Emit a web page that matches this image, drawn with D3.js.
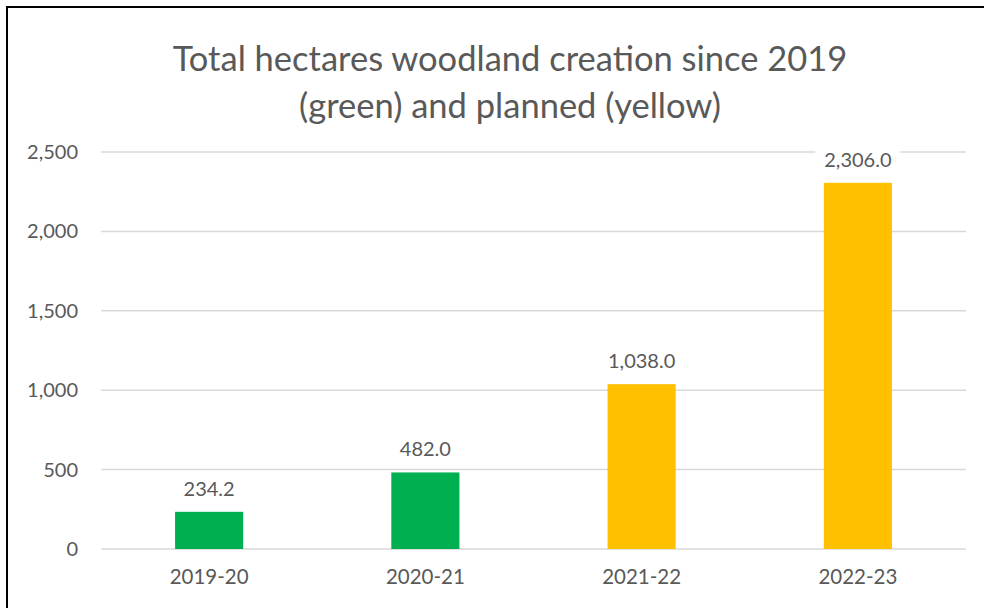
<!DOCTYPE html>
<html>
<head>
<meta charset="utf-8">
<title>Woodland creation</title>
<script src="https://d3js.org/d3.v7.min.js"></script>
<style>
  body { margin: 0; background: #fff; }
  text { font-family: Lato, "Open Sans", sans-serif; fill: #595959; }
</style>
</head>
<body>
<div id="chart"></div>
<script>
// data
var years = ["2019-20", "2020-21", "2021-22", "2022-23"];
var hectares = [234.2, 482.0, 1038.0, 2306.0];
var barColors = ["#00B050", "#00B050", "#FFC000", "#FFC000"];
var yTicks = [0, 500, 1000, 1500, 2000, 2500];
var titleLines = ["Total hectares woodland creation since 2019", "(green) and planned (yellow)"];

var W = 984, H = 608;
var margin = {top: 152, right: 18, bottom: 59, left: 101},
    width = W - margin.left - margin.right,
    height = H - margin.top - margin.bottom;

var svg = d3.select("#chart").append("svg")
    .attr("width", W).attr("height", H);

// outer frame
svg.append("rect")
    .attr("x", 7).attr("y", 7)
    .attr("width", W + 10).attr("height", H + 10)
    .attr("fill", "none").attr("stroke", "#000").attr("stroke-width", 2);

// title
svg.append("g").selectAll("text")
  .data(titleLines)
  .enter().append("text")
    .attr("x", 510)
    .attr("y", function(d, i) { return 71 + i * 47; })
    .attr("text-anchor", "middle")
    .style("font-size", "34.5px")
    .text(function(d) { return d; });

var g = svg.append("g")
    .attr("transform", "translate(" + margin.left + "," + margin.top + ")");

var x = d3.scaleBand().domain(years).range([0, width]).paddingInner(0.685).paddingOuter(0.3425);
var y = d3.scaleLinear().domain([0, 2500]).range([height, 0]);

// gridlines
g.append("g").selectAll("line")
  .data(yTicks)
  .enter().append("line")
    .attr("x1", 0).attr("x2", width)
    .attr("y1", function(d) { return y(d); })
    .attr("y2", function(d) { return y(d); })
    .attr("stroke", "#d9d9d9").attr("stroke-width", 1.5);

// y axis labels
var yAxis = g.append("g")
    .call(d3.axisLeft(y).tickValues(yTicks).tickFormat(d3.format(",")).tickSize(0).tickPadding(23));
yAxis.select(".domain").remove();
yAxis.selectAll("text").style("font-size", "20px").attr("fill", "#595959");

// x axis labels
var xAxis = g.append("g")
    .attr("transform", "translate(0," + height + ")")
    .call(d3.axisBottom(x).tickSize(0).tickPadding(20));
xAxis.select(".domain").remove();
xAxis.selectAll("text").style("font-size", "20.5px").attr("fill", "#595959");

// bars
g.selectAll(".bar")
  .data(hectares)
  .enter().append("rect")
    .attr("class", "bar")
    .attr("x", function(d, i) { return x(years[i]); })
    .attr("y", function(d) { return y(d); })
    .attr("width", x.bandwidth())
    .attr("height", function(d) { return height - y(d); })
    .attr("fill", function(d, i) { return barColors[i]; });

// data labels with white box
var fmt = d3.format(",.1f");
var labels = g.selectAll(".lbl")
  .data(hectares)
  .enter().append("g")
    .attr("class", "lbl")
    .attr("transform", function(d, i) {
      return "translate(" + (x(years[i]) + x.bandwidth() / 2) + "," + (y(d) - 23) + ")";
    });
labels.append("text")
    .attr("text-anchor", "middle")
    .attr("dy", "0.35em")
    .style("font-size", "20px")
    .text(function(d) { return fmt(d); });
labels.each(function() {
  var t = d3.select(this).select("text").node().getBBox();
  d3.select(this).insert("rect", "text")
    .attr("x", t.x - 9).attr("y", t.y - 3)
    .attr("width", t.width + 18).attr("height", t.height + 6)
    .attr("fill", "#fff");
});
</script>
</body>
</html>
